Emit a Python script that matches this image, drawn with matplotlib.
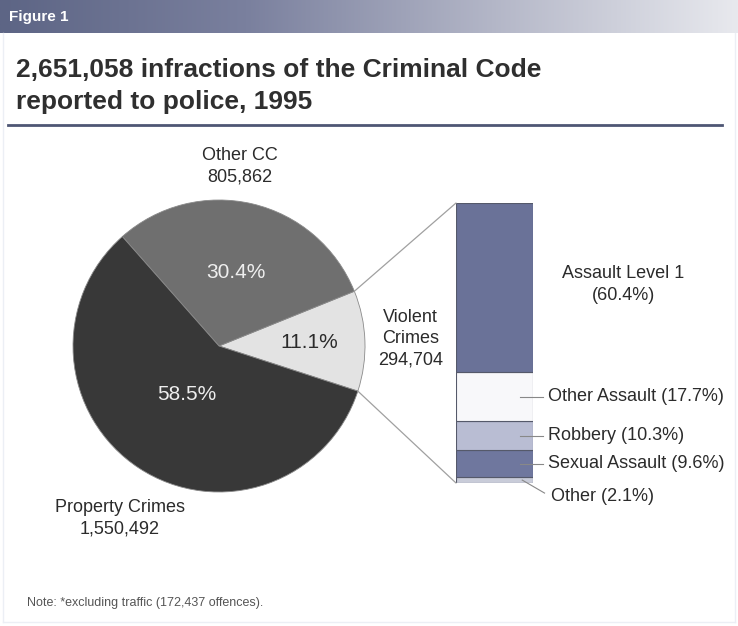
import numpy as np
import matplotlib.pyplot as plt
from matplotlib.patches import ConnectionPatch
from matplotlib.colors import LinearSegmentedColormap

W, H = 738, 626

# main pie: criminal code infractions by type
pie_labels = ['Violent\nCrimes', 'Other CC', 'Property Crimes']
pie_counts = [294704, 805862, 1550492]
pie_colors = ['#e3e3e3', '#6f6f6f', '#383838']

# breakdown of violent crimes (bottom to top)
violent_labels = ['Other', 'Sexual Assault', 'Robbery', 'Other Assault', 'Assault Level 1']
violent_pct = [2.1, 9.6, 10.3, 17.7, 60.4]
violent_colors = ['#c9ccd9', '#6f779e', '#b9bdd3', '#f8f8fa', '#6a7298']

note = 'Note: *excluding traffic (172,437 offences).'

plt.rcParams['font.family'] = ['Liberation Sans', 'DejaVu Sans']
TXT = '#2b2b2b'
FS = 13


def fx(x):
    return x / W


def fy(y):
    return 1 - y / H


fig = plt.figure(figsize=(W / 100, H / 100), dpi=100)

# header band
hax = fig.add_axes([0, fy(33), 1, 33 / H])
grad = np.linspace(0, 1, 256).reshape(1, -1)
cmap = LinearSegmentedColormap.from_list(
    'hdr', ['#5d6585', '#7a809e', '#b3b6c7', '#e8e9ee'])
hax.imshow(grad, aspect='auto', cmap=cmap, extent=[0, 1, 0, 1])
hax.axis('off')
fig.text(fx(9), fy(17), 'Figure 1', color='white', fontsize=11,
         fontweight='bold', va='center',
         family=['Liberation Sans Narrow', 'Liberation Sans'])

fig.text(fx(16), fy(58), '2,651,058 infractions of the Criminal Code\nreported to police, 1995',
         fontsize=19, fontweight='bold', color='#2f2f2f', va='top', linespacing=1.4)
fig.add_artist(plt.Line2D([fx(8), fx(722)], [fy(125), fy(125)],
                          color='#4e5674', lw=2))

# pie
pax = fig.add_axes([fx(73), fy(492), 292 / W, 292 / H])
wedges, _ = pax.pie(pie_counts, colors=pie_colors, startangle=-18,
                    counterclock=True, radius=1,
                    wedgeprops=dict(edgecolor='#8a8a8a', linewidth=0.6))
for w in wedges:
    w.set_clip_on(False)
pax.set_xlim(-1, 1)
pax.set_ylim(-1, 1)

total = sum(pie_counts)
pct_r = [0.62, 0.52, 0.40]
pct_colors = [TXT, '#eeeeee', '#eeeeee']
for w, c, r, col in zip(wedges, pie_counts, pct_r, pct_colors):
    ang = np.deg2rad((w.theta1 + w.theta2) / 2)
    pax.text(r * np.cos(ang), r * np.sin(ang), f'{100 * c / total:.1f}%',
             ha='center', va='center', fontsize=15, color=col)

label_pos = [(1.31, 0.05), (0.14, 1.23), (-0.68, -1.18)]
for lab, c, (x, y) in zip(pie_labels, pie_counts, label_pos):
    pax.text(x, y, f'{lab}\n{c:,}', ha='center', va='center', fontsize=FS,
             color=TXT, linespacing=1.35, clip_on=False)

# stacked bar for violent crimes
bax = fig.add_axes([fx(456), fy(483), 77 / W, 280 / H])
vtotal = sum(violent_pct)
bottom = 0
mids = []
for p, col in zip(violent_pct, violent_colors):
    bax.bar(0, p, width=1, bottom=bottom, color=col, edgecolor='#55596a',
            linewidth=0.8, align='edge')
    mids.append(bottom + p / 2)
    bottom += p
bax.set_xlim(0, 1)
bax.set_ylim(0, vtotal)
bax.axis('off')

for lab, p, m in zip(violent_labels, violent_pct, mids):
    if lab == 'Assault Level 1':
        bax.text(2.17, m + 1.2, f'{lab}\n({p}%)', ha='center', va='center',
                 fontsize=FS, color=TXT, linespacing=1.4, clip_on=False)
    elif lab == 'Other':
        bax.plot([0.86, 1.15], [m, -3.6], color='#888888', lw=0.8, clip_on=False)
        bax.text(1.23, -5.0, f'{lab} ({p}%)', va='center', fontsize=FS,
                 color=TXT, clip_on=False)
    else:
        bax.plot([0.83, 1.13], [m, m], color='#888888', lw=0.8, clip_on=False)
        bax.text(1.19, m, f'{lab} ({p}%)', va='center', fontsize=FS,
                 color=TXT, clip_on=False)

# lines joining the violent wedge to the bar
vw = wedges[0]
for theta, yb in [(vw.theta2, vtotal), (vw.theta1, 0)]:
    a = np.deg2rad(theta)
    con = ConnectionPatch(xyA=(np.cos(a), np.sin(a)), coordsA=pax.transData,
                          xyB=(0, yb), coordsB=bax.transData,
                          color='#a0a0a0', lw=0.9)
    fig.add_artist(con)

fig.text(fx(27), fy(603), note, fontsize=9, color='#555555', va='center')

# faint frame below the header
frame = '#eceff5'
fig.add_artist(plt.Line2D([fx(3), fx(3)], [fy(33), fy(622)], color=frame, lw=1))
fig.add_artist(plt.Line2D([fx(3), fx(735)], [fy(622), fy(622)], color=frame, lw=1))
fig.add_artist(plt.Line2D([fx(735), fx(735)], [fy(33), fy(622)], color=frame, lw=1))

fig.savefig('out.png', dpi=100)
